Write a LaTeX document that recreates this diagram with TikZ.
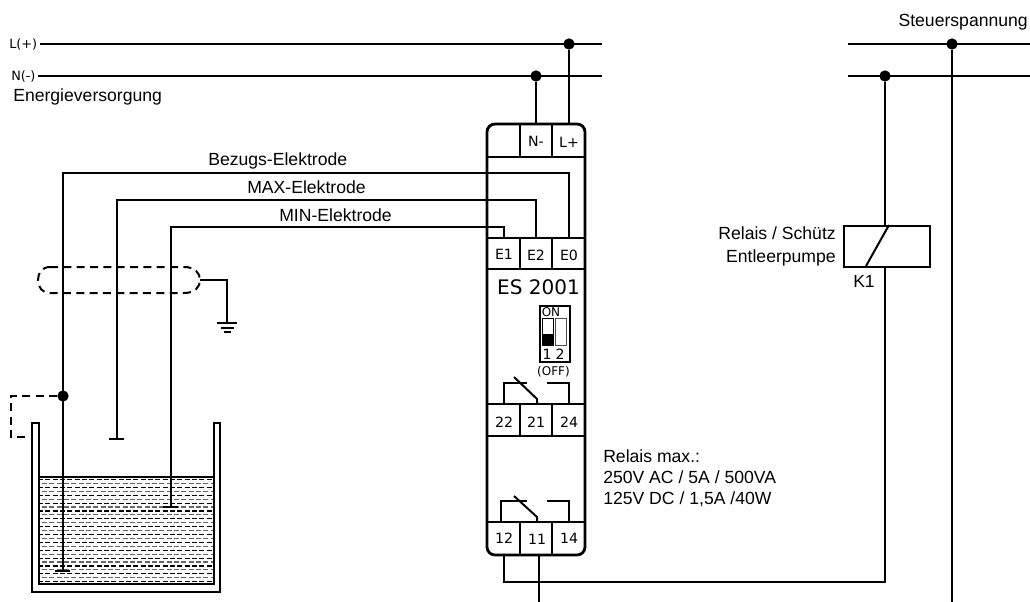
\documentclass[tikz,border=0pt]{standalone}
\usepackage{fontspec}
\setmainfont{Liberation Sans}
\newfontfamily\djv{DejaVu Sans}
\tikzset{
  x=0.75pt,y=-0.75pt,
  wire/.style={line width=1.5pt,black},
  case/.style={line width=2.1pt,black},
  div/.style={line width=1.5pt,black},
  dash wire/.style={line width=1.5pt,black,dash pattern=on 6pt off 4pt},
  dot/.style={circle,fill=black,inner sep=0pt,minimum size=8.5pt},
  lab/.style={font=\fontsize{13.2pt}{15pt}\selectfont,inner sep=0pt},
  term/.style={font=\djv\fontsize{10.6pt}{12pt}\selectfont,inner sep=0pt},
  small term/.style={font=\djv\fontsize{9pt}{11pt}\selectfont,inner sep=0pt},
  water/.style={line width=0.85pt,dash pattern=on 3.8pt off 1.7pt}
}
\begin{document}
\begin{tikzpicture}
\useasboundingbox (0,0) rectangle (1030,602);
% water
\begin{scope}
\clip (40,477) rectangle (213,583);
\foreach \i in {0,...,26}{
  \pgfmathsetmacro{\yy}{479.5+\i*3.93}
  \pgfmathparse{int(mod(\i,2))}
  \ifnum\pgfmathresult=0
    \draw[water,black] (38,\yy) -- (216,\yy);
  \else
    \draw[water,black!60,dash phase=2.6pt] (38,\yy) -- (216,\yy);
  \fi
}
\end{scope}
% coordinates
\coordinate (Ll) at (40,44); \coordinate (Lr) at (602,44);
\coordinate (Nl) at (38,76); \coordinate (Nr) at (602,76);
\coordinate (SLl) at (848,44); \coordinate (SLr) at (1030,44);
\coordinate (SNl) at (848,76); \coordinate (SNr) at (1030,76);
% bus
\draw[wire] (Ll) -- (Lr);
\draw[wire] (Nl) -- (Nr);
\draw[wire] (SLl) -- (SLr);
\draw[wire] (SNl) -- (SNr);
\node[dot] (dL) at (569,44) {};
\node[dot] (dN) at (536,76) {};
\node[dot] (dSL) at (952,44) {};
\node[dot] (dSN) at (885,76) {};
\node[dot] (dB) at (63,396) {};
% tank
\draw[wire] (32,437) -- (32,592) -- (220,592) -- (220,423) -- (213.5,423) -- (213.5,584) -- (38.5,584) -- (38.5,423) -- (32,423) -- cycle;
\draw[wire] (38.5,476.5) -- (213.5,476.5);
% dashed earth
\coordinate (tk) at (32,437);
\draw[dash wire] (dB) -- (11,396) -- (11,437) -- (tk);
% shield
\coordinate (sh) at (200,280);
\draw[dash wire] (50,267) -- (184,267) .. controls (195,267) and (200,273) .. (sh) .. controls (200,287) and (195,293) .. (184,293) -- (50,293) .. controls (42,293) and (38,287) .. (38,280) .. controls (38,273) and (42,267) .. (50,267);
\coordinate (gnd) at (227,323);
\draw[wire] (sh) -- (227,280) -- (gnd);
\draw[wire] (217,323) -- (237,323);
\draw[wire] (220.5,327.5) -- (233.5,327.5);
\draw[wire] (223.5,332) -- (230.5,332);
% case
\draw[case,rounded corners=6pt] (487,237.5) -- (487,124) -- (585,124) -- (585,237.5);
\draw[case,rounded corners=6pt] (487,237.5) -- (487,555) -- (585,555) -- (585,237.5);
\draw[case] (487,157) -- (585,157);
\draw[div] (487,237.5) -- (585,237.5);
\draw[case] (487,269) -- (585,269);
\draw[div] (487,404) -- (585,404);
\draw[div] (487,436) -- (585,436);
\draw[div] (487,522) -- (585,522);
\foreach \yy/\zz in {124/157,237.5/269,404/436,522/555}{
  \draw[div] (520,\yy) -- (520,\zz);
  \draw[div] (552,\yy) -- (552,\zz);
}
% module wires
\coordinate (TN) at (536,124); \coordinate (TL) at (569,124);
\coordinate (E0) at (569,237.5); \coordinate (E2) at (536,237.5); \coordinate (E1) at (504,237.5);
\draw[wire] (dL) -- (TL);
\draw[wire] (dN) -- (TN);
\coordinate (Bb) at (63,571); \coordinate (Mb) at (117,439); \coordinate (Nb) at (170.5,507);
\draw[wire] (E0) -- (569,173) -- (63,173) -- (Bb);
\draw[wire] (E2) -- (536,200.5) -- (117,200.5) -- (Mb);
\draw[wire] (E1) -- (504,227) -- (170.5,227) -- (Nb);
\draw[wire] (55,571) -- (70,571);
\draw[wire] (109,439) -- (124,439);
\draw[wire] (163,507) -- (178,507);
% contacts
\draw[wire] (504,404) -- (504,383) -- (527,383);
\draw[wire] (514,377) -- (537,399) -- (537,404);
\draw[wire] (547,383) -- (569,383) -- (569,404);
\draw[wire] (501,522) -- (501,501) -- (527,501);
\draw[wire] (514,496) -- (537,517) -- (537,522);
\draw[wire] (547,501) -- (569,501) -- (569,522);
% DIP
\node[draw,line width=1.5pt,minimum width=22.5pt,minimum height=42pt,inner sep=0pt,anchor=north west] (dip) at (539,305) {};
\draw[line width=0.6pt,black] (542.5,318) rectangle (553,345);
\fill[black] (542.5,334) rectangle (553,345);
\draw[line width=0.6pt,black!70] (555.5,318) rectangle (566,345);
\node[small term] (on) at (551,312) {ON};
\node[term] (n1) at (547,354) {1};
\node[term] (n2) at (560,354) {2};
\node[small term] (off) at (553.5,372) {(OFF)};
% bottom wires
\coordinate (b12) at (504,555); \coordinate (b11) at (539,555);
\coordinate (e11) at (539,602); \coordinate (eS) at (952,602);
% relay
\node[draw,line width=1.5pt,minimum width=64.5pt,minimum height=30.75pt,inner sep=0pt,anchor=north west] (K) at (843,225) {};
\coordinate (Kt) at (885,225); \coordinate (Kb) at (885,266);
\draw[wire] (dSN) -- (Kt);
\draw[wire] (b12) -- (504,582) -- (885,582) -- (Kb);
\draw[wire] (b11) -- (e11);
\draw[wire] (dSL) -- (eS);
\draw[wire] (889,225) -- (866,266);
% labels
\node[term,anchor=west,font=\djv\fontsize{9.6pt}{11pt}\selectfont] (lLp) at (9,44) {L(+)};
\node[term,anchor=west,font=\djv\fontsize{9.6pt}{11pt}\selectfont] (lNm) at (11,76) {N(-)};
\node[lab,anchor=west] (lE) at (13,97) {Energieversorgung};
\node[lab,anchor=west] (lB) at (208,161) {Bezugs-Elektrode};
\node[lab,anchor=west] (lM) at (247,187) {MAX-Elektrode};
\node[lab,anchor=west] (lN) at (279,215) {MIN-Elektrode};
\node[lab,anchor=east] (lS) at (1028,22) {Steuerspannung};
\node[lab,anchor=east] (lR) at (836,233) {Relais / Schütz};
\node[lab,anchor=east] (lP) at (836,258) {Entleerpumpe};
\node[lab] (lK) at (864,281) {K1};
\node[lab,anchor=west] (r1) at (603,456) {Relais max.:};
\node[lab,anchor=west] (r2) at (603,477) {250V AC / 5A / 500VA};
\node[lab,anchor=west] (r3) at (603,499) {125V DC / 1,5A /40W};
\node[term] (tN) at (536,141) {N-};
\node[term] (tL) at (569,142) {L+};
\node[term] (tE1) at (504,254) {E1};
\node[term] (tE2) at (536,255) {E2};
\node[term] (tE0) at (569,255) {E0};
\node[term,font=\djv\fontsize{15pt}{17pt}\selectfont] (es) at (538.5,287) {ES 2001};
\node[term] (t22) at (504,422) {22};
\node[term] (t21) at (536,422) {21};
\node[term] (t24) at (569,422) {24};
\node[term] (t12) at (504,538) {12};
\node[term] (t11) at (537,539) {11};
\node[term] (t14) at (569,538) {14};
\end{tikzpicture}
\end{document}
